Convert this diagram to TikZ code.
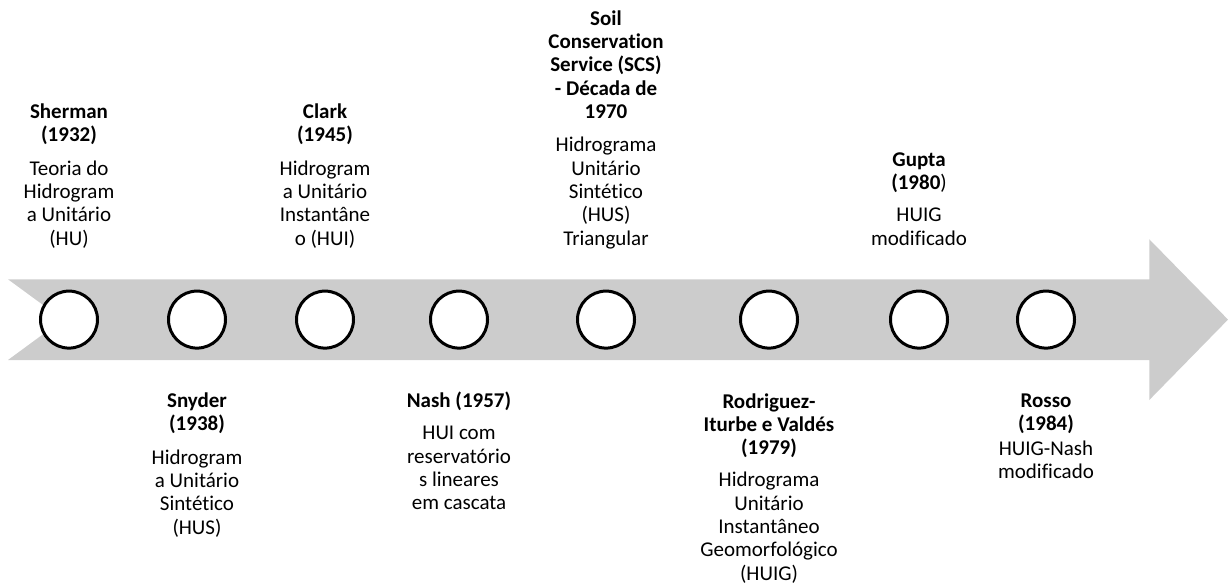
\documentclass[tikz,border=0pt]{standalone}
\usepackage{fontspec}
\setmainfont{Carlito}[Ligatures=NoCommon]
\definecolor{bandgray}{HTML}{CCCCCC}
% label text: 21pt with tight line spacing
\newcommand\lblfont{\fontsize{21}{23.3}\selectfont}
% stacks anchored on their last (above the band) or first (below the band) baseline
\newcommand\topstack[1]{\begin{tabular}[b]{@{}c@{}}#1\end{tabular}}
\newcommand\botstack[1]{\begin{tabular}[t]{@{}c@{}}#1\end{tabular}}
\begin{document}
\begin{tikzpicture}[x=1pt,y=-1pt,
  band/.style={fill=bandgray,draw=none},
  milestone/.style={circle,draw=black,line width=3pt,fill=white,minimum size=57pt,inner sep=0pt},
  eventlabel/.style={inner sep=0pt,font=\lblfont,anchor=base}]
\useasboundingbox (0,0) rectangle (1228,583);

% notched timeline arrow
\path[band] (8,279.3) -- (1149.3,279.3) -- (1149.3,239.3) -- (1228,319.6)
  -- (1149.3,400) -- (1149.3,360) -- (8,360) -- (63,319.6) -- cycle;

% milestones
\node[milestone] (sherman) at (69,319.6) {};
\node[milestone] (snyder) at (197,319.6) {};
\node[milestone] (clark) at (325,319.6) {};
\node[milestone] (nash) at (459,319.6) {};
\node[milestone] (scs) at (606,319.6) {};
\node[milestone] (rodriguez) at (769,319.6) {};
\node[milestone] (gupta) at (919,319.6) {};
\node[milestone] (rosso) at (1046,319.6) {};

% labels above the band
\node[eventlabel] (shermanlbl) at (69,245) {\topstack{\textbf{Sherman}\\ \textbf{(1932)}\\[10pt] Teoria do\\ Hidrogram\\ a Unitário\\ (HU)}};
\node[eventlabel] (clarklbl) at (325,245) {\topstack{\textbf{Clark}\\ \textbf{(1945)}\\[10pt] Hidrogram\\ a Unitário\\ Instantâne\\ o (HUI)}};
\node[eventlabel] (scslbl) at (606,245) {\topstack{\textbf{Soil}\\ \textbf{Conservation}\\ \textbf{Service (SCS)}\\ \textbf{- Década de}\\ \textbf{1970}\\[10pt] Hidrograma\\ Unitário\\ Sintético\\ (HUS)\\ Triangular}};
\node[eventlabel] (guptalbl) at (919,245) {\topstack{\textbf{Gupta}\\ \textbf{(1980})\\[9pt] HUIG\\ modificado}};

% labels below the band
\node[eventlabel] (snyderlbl) at (197,407.5) {\botstack{\textbf{Snyder}\\ \textbf{(1938)}\\[10pt] Hidrogram\\ a Unitário\\ Sintético\\ (HUS)}};
\node[eventlabel] (nashlbl) at (459,407.5) {\botstack{\textbf{Nash (1957)}\\[9pt] HUI com\\ reservatório\\ s lineares\\ em cascata}};
\node[eventlabel] (rodriguezlbl) at (769,408) {\botstack{\textbf{Rodriguez-}\\ \textbf{Iturbe e Valdés}\\ \textbf{(1979)}\\[9pt] Hidrograma\\ Unitário\\ Instantâneo\\ Geomorfológico\\ (HUIG)}};
\node[eventlabel] (rossolbl) at (1046,407) {\botstack{\textbf{Rosso}\\ \textbf{(1984)}\\[1.5pt] HUIG-Nash\\ modificado}};
\end{tikzpicture}
\end{document}
